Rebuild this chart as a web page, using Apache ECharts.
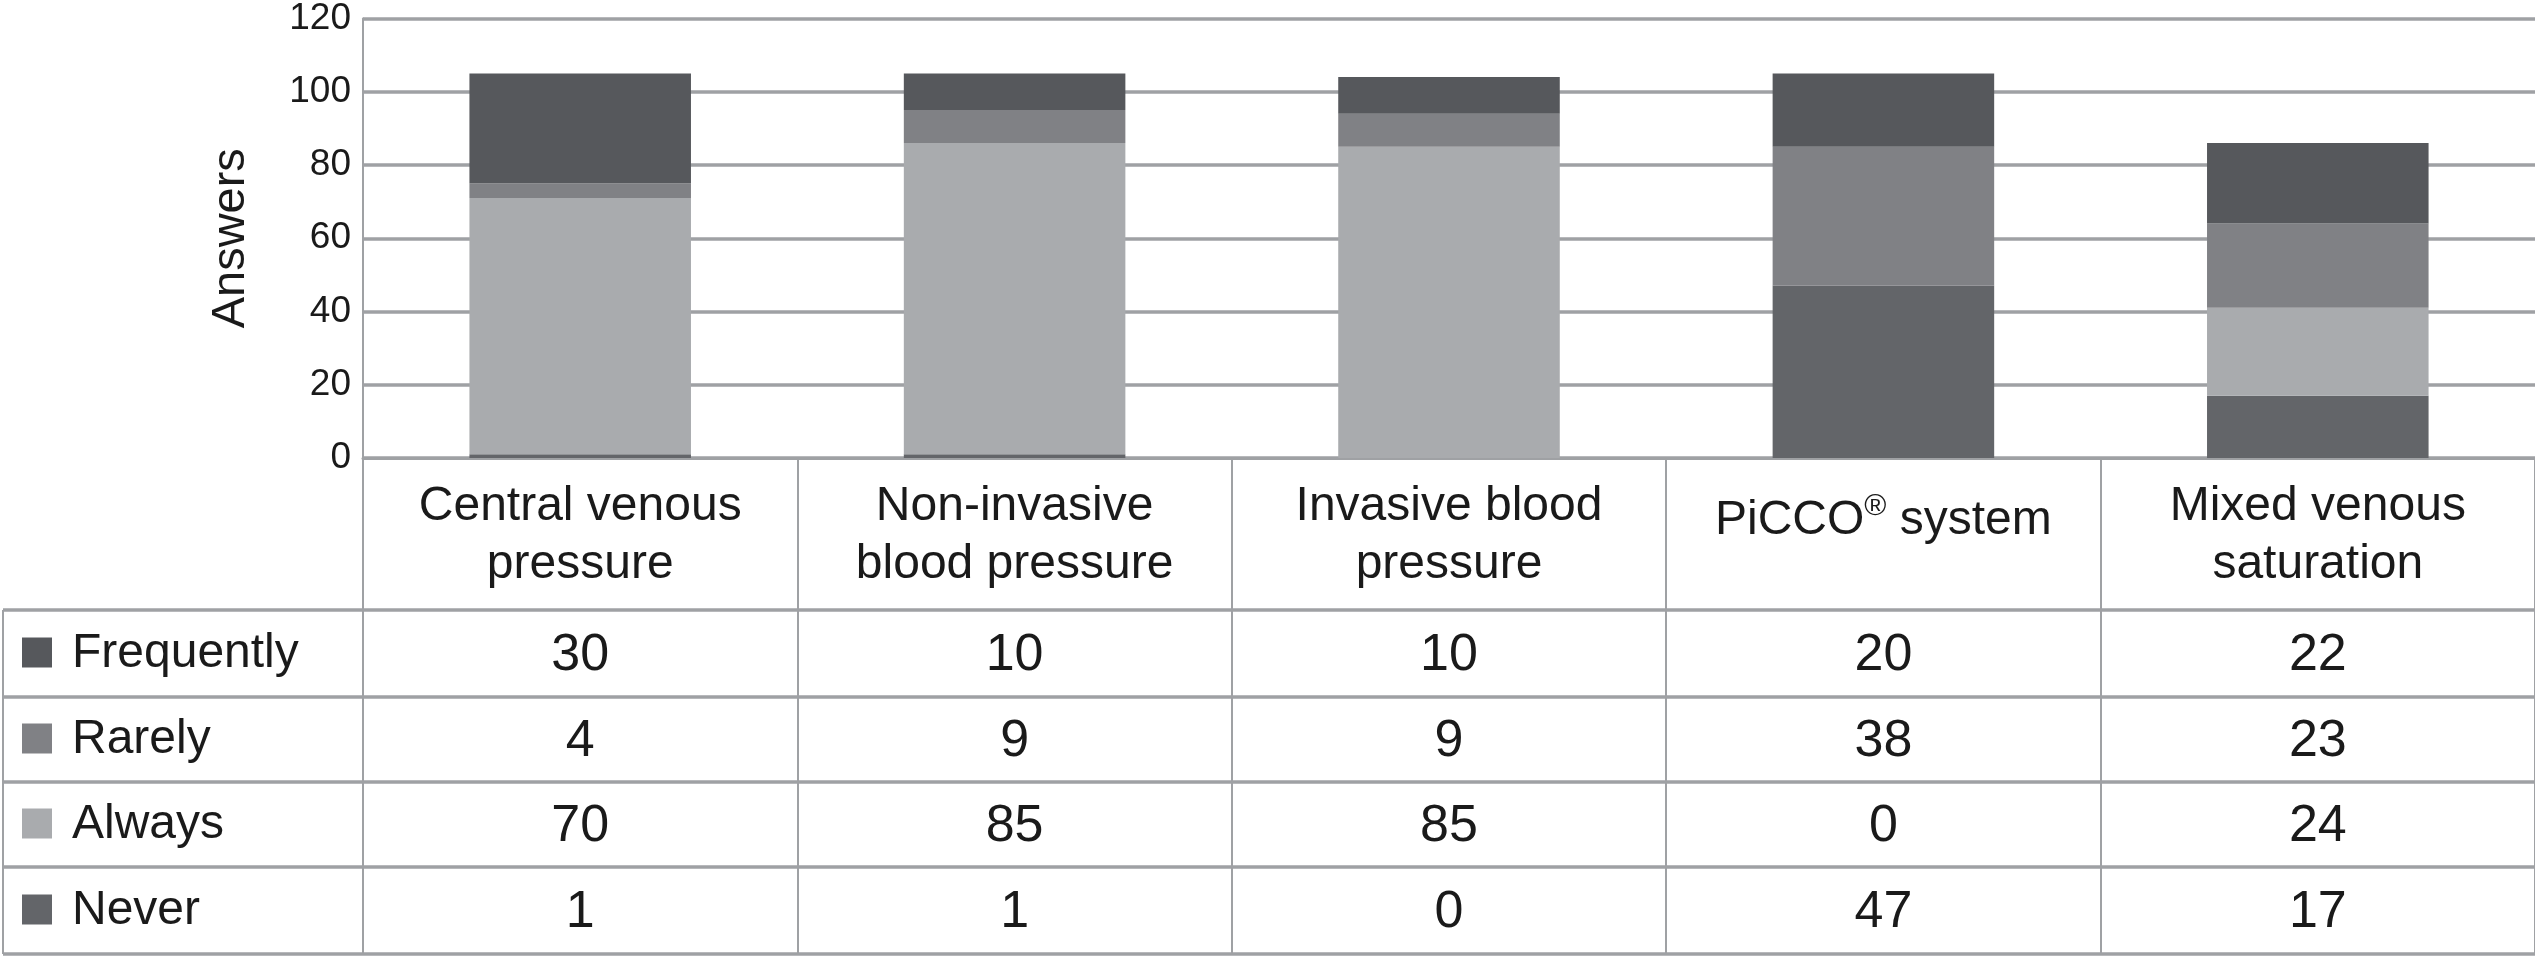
<!DOCTYPE html>
<html>
<head>
<meta charset="utf-8">
<script src="https://cdn.jsdelivr.net/npm/echarts@6/dist/echarts.min.js"></script>
<style>
html,body{margin:0;padding:0;background:#fff;}
#chart{width:2535px;height:960px;}
</style>
</head>
<body>
<div id="chart"></div>
<script>
// ---- data ----
const categories = ['Central venous\npressure', 'Non-invasive\nblood pressure', 'Invasive blood\npressure', 'PiCCO® system', 'Mixed venous\nsaturation'];
const rowNames = ['Frequently', 'Rarely', 'Always', 'Never'];
const frequently = [30, 10, 10, 20, 22];
const rarely = [4, 9, 9, 38, 23];
const always = [70, 85, 85, 0, 24];
const never = [1, 1, 0, 47, 17];
const yMin = 0, yMax = 120, yStep = 20;

// ---- styles ----
const colors = { Frequently: '#56585c', Rarely: '#808185', Always: '#a9abae', Never: '#636569' };
const lineColor = '#9fa1a4';
const textColor = '#1a1a1a';
const font = '"Liberation Sans", Arial, Helvetica, sans-serif';
const rowValues = { Frequently: frequently, Rarely: rarely, Always: always, Never: never };

const gridLeft = 363, gridTop = 15, axisY = 458;
const rowLines = [610, 697, 782, 867, 954];

const chart = echarts.init(document.getElementById('chart'));

const xData = categories.map(c => {
  if (c.indexOf('®') >= 0) {
    return { value: c, textStyle: { padding: [14, 0, 0, 0] } };
  }
  return c;
});

const stackOrder = ['Never', 'Always', 'Rarely', 'Frequently'];

chart.setOption({
  animation: false,
  backgroundColor: '#fff',
  grid: { left: gridLeft, right: 0, top: gridTop, bottom: 960 - axisY, containLabel: false },
  xAxis: {
    type: 'category',
    data: xData,
    axisLine: { show: true, lineStyle: { color: lineColor, width: 3 } },
    axisTick: { show: true, interval: 0, alignWithLabel: false, length: rowLines[rowLines.length - 1] - axisY, lineStyle: { color: lineColor, width: 2 } },
    axisLabel: {
      interval: 0,
      margin: 20,
      fontFamily: font,
      fontSize: 48,
      lineHeight: 58,
      color: textColor,
      formatter: function (v) {
        if (v.indexOf('®') >= 0) {
          const parts = v.split('®');
          return '{a|' + parts[0] + '}{sup|®}{a|' + parts[1] + '}';
        }
        return v;
      },
      rich: {
        a: { fontFamily: font, fontSize: 48, lineHeight: 58, color: textColor },
        sup: { fontFamily: font, fontSize: 30, lineHeight: 32, verticalAlign: 'top', color: textColor }
      }
    },
    splitLine: { show: false }
  },
  yAxis: {
    type: 'value',
    min: yMin, max: yMax, interval: yStep,
    name: 'Answers',
    nameLocation: 'middle',
    nameGap: 108,
    nameTextStyle: { fontFamily: font, fontSize: 47, color: textColor },
    axisLine: { show: true, lineStyle: { color: lineColor, width: 2 } },
    axisTick: { show: false },
    axisLabel: { fontFamily: font, fontSize: 37, color: textColor, margin: 12 },
    splitLine: { show: true, lineStyle: { color: lineColor, width: 3.5 } }
  },
  series: stackOrder.map(name => ({
    name: name,
    type: 'bar',
    stack: 'total',
    barWidth: '51%',
    data: rowValues[name],
    itemStyle: { color: colors[name] }
  }))
});

// ---- data table built from arrays, positioned via the chart's x scale ----
const graphics = [];
const W = 2535;
rowLines.forEach(y => {
  graphics.push({ type: 'line', shape: { x1: 3, y1: y, x2: W, y2: y }, style: { stroke: lineColor, lineWidth: 3.5 }, z: 10 });
});
graphics.push({ type: 'line', shape: { x1: 3, y1: rowLines[0], x2: 3, y2: rowLines[rowLines.length - 1] }, style: { stroke: lineColor, lineWidth: 2 }, z: 10 });

rowNames.forEach((name, r) => {
  const cy = (rowLines[r] + rowLines[r + 1]) / 2;
  graphics.push({ type: 'rect', shape: { x: 22, y: cy - 16, width: 30, height: 30 }, style: { fill: colors[name] }, z: 10 });
  graphics.push({ type: 'text', style: { x: 72, y: cy, text: name, fontFamily: font, fontSize: 48, fill: textColor, verticalAlign: 'middle', align: 'left' }, z: 10 });
  rowValues[name].forEach((v, i) => {
    const px = chart.convertToPixel({ xAxisIndex: 0 }, i);
    graphics.push({ type: 'text', style: { x: px, y: cy + 2, text: String(v), fontFamily: font, fontSize: 52, fill: textColor, verticalAlign: 'middle', align: 'center' }, z: 10 });
  });
});

chart.setOption({ graphic: graphics });
</script>
</body>
</html>
